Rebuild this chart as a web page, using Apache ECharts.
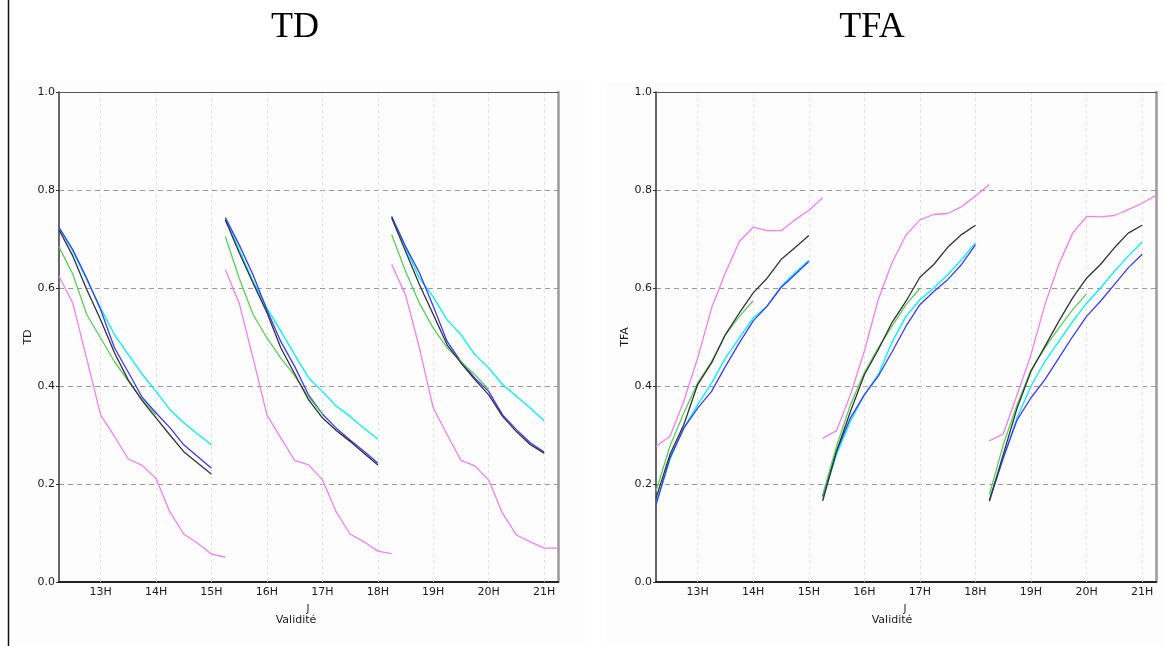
<!DOCTYPE html>
<html>
<head>
<meta charset="utf-8">
<script src="https://cdn.jsdelivr.net/npm/echarts@6/dist/echarts.min.js"></script>
<style>
  html, body { margin: 0; padding: 0; background: #ffffff; }
  #chart { width: 1165px; height: 646px; }
</style>
</head>
<body>
<div id="chart"></div>
<script>
// Three forecast runs, each sampled every 15 minutes from its start time
const runStarts = [12.25, 15.25, 18.25];
const stepHours = 0.25;
const hourTicks = [13, 14, 15, 16, 17, 18, 19, 20, 21];

// TD scores, one array per run
const tdViolet = [
  [0.624, 0.569, 0.456, 0.341, 0.297, 0.251, 0.238, 0.211, 0.143, 0.098, 0.079, 0.057, 0.051],
  [0.637, 0.569, 0.457, 0.341, 0.294, 0.248, 0.239, 0.209, 0.143, 0.098, 0.082, 0.063, 0.058],
  [0.648, 0.586, 0.478, 0.355, 0.301, 0.248, 0.237, 0.208, 0.140, 0.096, 0.082, 0.069, 0.069]
];
const tdCyan = [
  [0.722, 0.675, 0.617, 0.559, 0.505, 0.464, 0.424, 0.389, 0.352, 0.325, 0.302, 0.280],
  [0.743, 0.678, 0.614, 0.559, 0.512, 0.464, 0.417, 0.389, 0.359, 0.338, 0.314, 0.292],
  [0.746, 0.682, 0.620, 0.582, 0.535, 0.505, 0.464, 0.437, 0.403, 0.379, 0.355, 0.329]
];
const tdBlue = [
  [0.724, 0.678, 0.620, 0.556, 0.478, 0.428, 0.377, 0.345, 0.315, 0.280, 0.256, 0.232],
  [0.744, 0.688, 0.627, 0.555, 0.491, 0.440, 0.382, 0.343, 0.314, 0.290, 0.267, 0.243],
  [0.746, 0.685, 0.631, 0.563, 0.491, 0.450, 0.416, 0.389, 0.341, 0.311, 0.284, 0.265]
];
const tdBlack = [
  [0.719, 0.665, 0.597, 0.535, 0.468, 0.412, 0.370, 0.335, 0.300, 0.266, 0.243, 0.220],
  [0.739, 0.672, 0.610, 0.550, 0.478, 0.425, 0.372, 0.335, 0.309, 0.287, 0.263, 0.239],
  [0.743, 0.675, 0.607, 0.546, 0.484, 0.447, 0.413, 0.382, 0.338, 0.307, 0.280, 0.263]
];
const tdGreen = [
  [0.684, 0.628, 0.546, 0.498, 0.450, 0.410, 0.372, 0.341],
  [0.705, 0.620, 0.546, 0.498, 0.457, 0.421, 0.378, 0.342],
  [0.709, 0.634, 0.569, 0.518, 0.478, 0.450, 0.423, 0.393]
];

// TFA scores, one array per run
const tfaViolet = [
  [0.277, 0.297, 0.369, 0.457, 0.559, 0.631, 0.695, 0.724, 0.717, 0.717, 0.739, 0.758, 0.784],
  [0.293, 0.309, 0.382, 0.471, 0.576, 0.652, 0.708, 0.739, 0.750, 0.752, 0.766, 0.788, 0.811],
  [0.288, 0.302, 0.382, 0.464, 0.566, 0.648, 0.712, 0.746, 0.745, 0.748, 0.760, 0.773, 0.789]
];
const tfaCyan = [
  [0.158, 0.250, 0.314, 0.362, 0.406, 0.457, 0.498, 0.539, 0.563, 0.603, 0.631, 0.656],
  [0.171, 0.260, 0.328, 0.382, 0.423, 0.490, 0.542, 0.576, 0.600, 0.627, 0.658, 0.692],
  [0.168, 0.253, 0.335, 0.400, 0.450, 0.491, 0.532, 0.569, 0.600, 0.634, 0.665, 0.694]
];
const tfaBlue = [
  [0.158, 0.253, 0.314, 0.355, 0.389, 0.440, 0.488, 0.533, 0.563, 0.601, 0.627, 0.654],
  [0.175, 0.267, 0.335, 0.382, 0.420, 0.470, 0.522, 0.566, 0.593, 0.617, 0.648, 0.688],
  [0.165, 0.253, 0.331, 0.376, 0.413, 0.457, 0.501, 0.542, 0.573, 0.607, 0.641, 0.669]
];
const tfaBlack = [
  [0.171, 0.260, 0.321, 0.403, 0.447, 0.505, 0.549, 0.590, 0.620, 0.658, 0.682, 0.707],
  [0.165, 0.267, 0.348, 0.423, 0.474, 0.530, 0.573, 0.622, 0.648, 0.683, 0.709, 0.728],
  [0.165, 0.260, 0.355, 0.430, 0.481, 0.532, 0.580, 0.620, 0.648, 0.682, 0.712, 0.728]
];
const tfaGreen = [
  [0.185, 0.277, 0.345, 0.406, 0.450, 0.505, 0.542, 0.574],
  [0.178, 0.277, 0.362, 0.427, 0.478, 0.522, 0.566, 0.599],
  [0.178, 0.280, 0.362, 0.433, 0.478, 0.518, 0.556, 0.588]
];

const panels = [
  { title: 'TD',  name: 'TD',  left: 59,  width: 499, titleX: 295, nameX: 296, markX: 308,
    lines: [tdViolet, tdCyan, tdBlue, tdGreen, tdBlack] },
  { title: 'TFA', name: 'TFA', left: 656, width: 500, titleX: 872, nameX: 892, markX: 905,
    lines: [tfaViolet, tfaCyan, tfaBlue, tfaGreen, tfaBlack] }
];
const lineColors = ['#ee82ee', '#00f0f0', '#3a3aff', '#5ccc5c', '#333333'];

const labelFont = { fontFamily: 'DejaVu Sans', fontSize: 11, color: '#1a1a1a' };

const grid = [], xAxis = [], yAxis = [], series = [], graphic = [];

graphic.push({ type: 'rect', shape: { x: 12, y: 80, width: 574, height: 566 }, style: { fill: '#fdfdfd' }, z: -10 });
graphic.push({ type: 'rect', shape: { x: 605, y: 82, width: 560, height: 564 }, style: { fill: '#fdfdfd' }, z: -10 });
graphic.push({ type: 'line', shape: { x1: 8.5, y1: 0, x2: 8.5, y2: 646 }, style: { stroke: '#111', lineWidth: 1.5 } });

panels.forEach((p, i) => {
  grid.push({ left: p.left, top: 92, width: p.width, height: 490 });
  // panel heading
  graphic.push({
    type: 'text', x: p.titleX, y: 28,
    style: { text: p.title, textAlign: 'center', textVerticalAlign: 'middle', fill: '#000',
             fontFamily: 'Liberation Serif', fontSize: 36 }
  });
  // bottom time axis
  xAxis.push({
    type: 'value', gridIndex: i, min: 12.25, max: 21.25, position: 'bottom',
    axisLine: { show: true, onZero: false, lineStyle: { color: '#222', width: 2 } },
    axisTick: { show: true, inside: true, length: 2, customValues: hourTicks, lineStyle: { color: '#ccc' } },
    axisLabel: Object.assign({ customValues: hourTicks, margin: 5, formatter: v => v + 'H' }, labelFont),
    splitLine: { show: true, lineStyle: { color: '#e2e2e2', type: [3, 3], width: 1 } }
  });
  // top frame edge
  xAxis.push({
    type: 'value', gridIndex: i, min: 12.25, max: 21.25, position: 'top',
    axisLine: { show: true, onZero: false, lineStyle: { color: '#555', width: 1.2 } },
    axisTick: { show: false }, axisLabel: { show: false }, splitLine: { show: false }
  });
  yAxis.push({
    type: 'value', gridIndex: i, min: 0, max: 1, interval: 0.2, position: 'left',
    name: p.name, nameLocation: 'middle', nameGap: 25,
    nameTextStyle: labelFont,
    axisLine: { show: true, onZero: false, lineStyle: { color: '#333', width: 1.5 } },
    axisTick: { show: true, length: 3, lineStyle: { color: '#333' } },
    axisLabel: Object.assign({ margin: 4, formatter: v => v.toFixed(1) }, labelFont),
    splitLine: { show: true, lineStyle: { color: '#999', type: [5, 4], width: 1 } }
  });
  // right frame edge
  yAxis.push({
    type: 'value', gridIndex: i, min: 0, max: 1, position: 'right',
    axisLine: { show: true, onZero: false, lineStyle: { color: '#9a9a9a', width: 2.5 } },
    axisTick: { show: false }, axisLabel: { show: false }, splitLine: { show: false }
  });

  p.lines.forEach((runs, k) => {
    runs.forEach((vals, r) => {
      series.push({
        type: 'line', xAxisIndex: i * 2, yAxisIndex: i * 2,
        data: vals.map((v, j) => [runStarts[r] + j * stepHours, v]),
        showSymbol: false, symbol: 'none', silent: true,
        lineStyle: { color: lineColors[k], width: 1.3 }, z: 2 + k
      });
    });
  });

  graphic.push({
    type: 'text', x: p.nameX, y: 620,
    style: { text: 'Validité', textAlign: 'center', textVerticalAlign: 'middle', fill: '#1a1a1a', fontFamily: 'DejaVu Sans', fontSize: 11 }
  });
  graphic.push({
    type: 'text', x: p.markX, y: 609,
    style: { text: 'J', textAlign: 'center', textVerticalAlign: 'middle', fill: '#1a1a1a', fontFamily: 'DejaVu Sans', fontSize: 10 }
  });
});

const chart = echarts.init(document.getElementById('chart'), null, { renderer: 'canvas' });
chart.setOption({
  animation: false,
  backgroundColor: '#ffffff',
  grid, xAxis, yAxis, series, graphic
});
</script>
</body>
</html>
